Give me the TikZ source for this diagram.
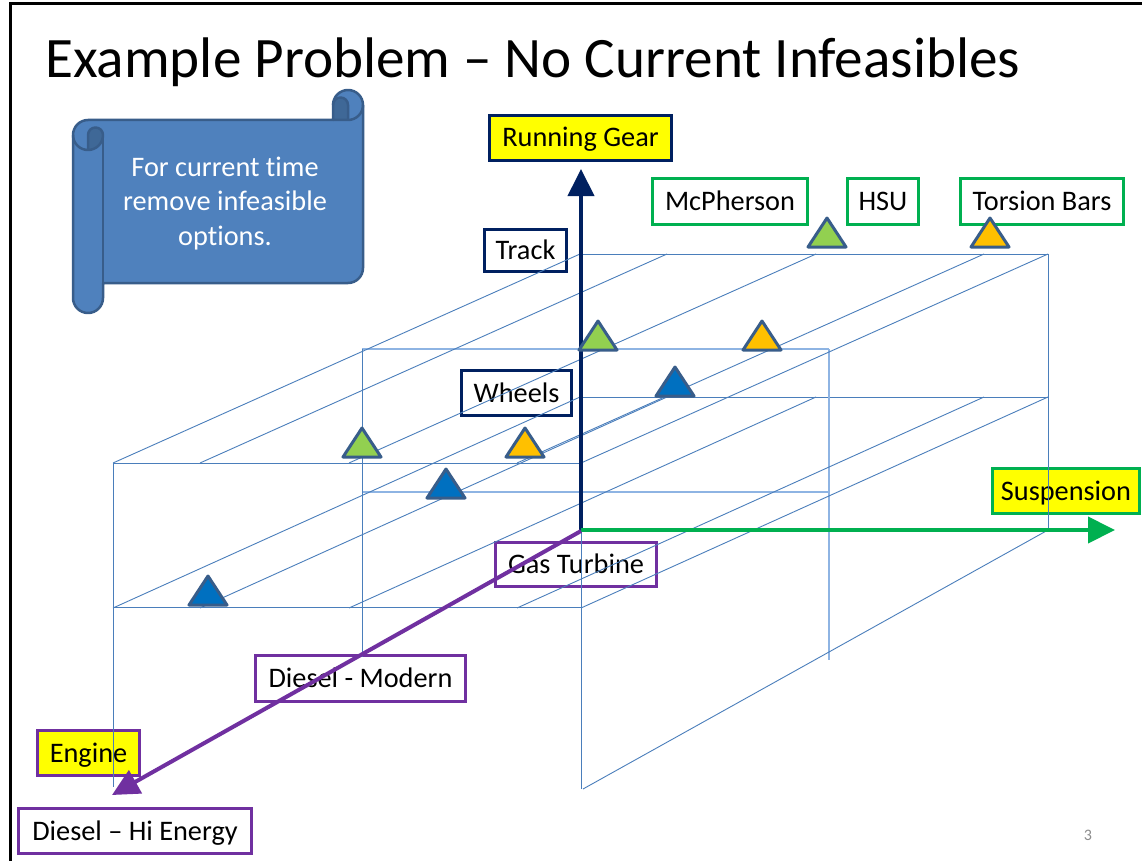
\documentclass[tikz,border=0pt]{standalone}
\usepackage{fontspec}
\setmainfont{Carlito}[Ligatures=NoCommon]
\usetikzlibrary{arrows.meta}

\definecolor{navy}{HTML}{002060}
\definecolor{grn}{HTML}{00B050}
\definecolor{purp}{HTML}{7030A0}
\definecolor{yel}{HTML}{FFFF00}
\definecolor{gridblue}{HTML}{4A7EBB}
\definecolor{midblue}{HTML}{8EB4E3}
\definecolor{scrollfill}{HTML}{4F81BD}
\definecolor{scrolledge}{HTML}{385D8A}
\definecolor{scrolldark}{HTML}{3F6897}
\definecolor{trigreen}{HTML}{92D050}
\definecolor{triorange}{HTML}{FFC000}
\definecolor{triblue}{HTML}{0070C0}
\definecolor{pagegray}{HTML}{8C8C8C}

\tikzset{
  lbl/.style={draw, line width=3pt, fill=white, text=black, inner sep=0pt,
    text height=18pt, text depth=0pt,
    font=\fontsize{28.3}{34}\selectfont},
  gridline/.style={gridblue, line width=0.9pt},
  midline/.style={midblue, line width=1.5pt},
  optri/.style={draw=scrolledge, line width=3pt, line join=round},
  axisline/.style={line width=4pt},
}

% option marker: base centre x, base y, fill colour
\newcommand{\optmark}[3]{\draw[optri, fill=#3] (#1-19,#2) -- (#1+19,#2) -- (#1,#2-29) -- cycle;}

\begin{document}
\begin{tikzpicture}[x=1pt, y=-1pt]
\useasboundingbox (0,0) rectangle (1142,861);
\fill[white] (0,0) rectangle (1142,861);

% slide frame
\draw[line width=3pt, black] (10,861) -- (10,4) -- (1142,4);

% title
\node[anchor=base west, inner sep=0pt, font=\fontsize{57.2}{68}\selectfont] (title) at (45,78)
  {Example Problem – No Current Infeasibles};

% scroll callout
\fill[scrollfill] (73,135) arc[start angle=180, end angle=270, radius=15]
  -- (333,120) -- (333,105) arc[start angle=180, end angle=360, radius=15]
  -- (363,268) arc[start angle=0, end angle=90, radius=15]
  -- (103,283) -- (103,298) arc[start angle=0, end angle=180, radius=15] -- cycle;
\fill[scrolldark] (333,120) -- (348,120) -- (348,105)
  arc[start angle=0, end angle=-180, radius=7.5] -- cycle;
\fill[scrolldark] (88,150) arc[start angle=90, end angle=0, radius=15]
  arc[start angle=0, end angle=-180, radius=7.5] -- cycle;
\draw[scrolledge, line width=2.5pt, line join=round]
  (73,135) arc[start angle=180, end angle=270, radius=15]
  -- (333,120) -- (333,105) arc[start angle=180, end angle=360, radius=15]
  -- (363,268) arc[start angle=0, end angle=90, radius=15]
  -- (103,283) -- (103,298) arc[start angle=0, end angle=180, radius=15] -- cycle;
\draw[scrolledge, line width=2.5pt, line join=round]
  (333,120) -- (348,120) arc[start angle=90, end angle=0, radius=15];
\draw[scrolledge, line width=2.5pt, line join=round]
  (348,120) -- (348,105) arc[start angle=0, end angle=-180, radius=7.5];
\draw[scrolledge, line width=2.5pt, line join=round]
  (88,150) -- (88,135) arc[start angle=180, end angle=360, radius=7.5]
  arc[start angle=0, end angle=180, radius=15];
\draw[scrolledge, line width=2.5pt] (103,135) -- (103,283);
\begin{scope}[every node/.style={anchor=base, inner sep=0pt, text=white,
    font=\fontsize{28.3}{34}\selectfont}]
  \node (noteA) at (225,177) {For current time};
  \node (noteB) at (225,211) {remove infeasible};
  \node (noteC) at (225,245) {options.};
\end{scope}

% axis and option labels
\node[lbl, draw=navy, fill=yel, minimum width=182pt, minimum height=45pt] (rg) at (580.5,138) {Running Gear};
\node[lbl, draw=navy, minimum width=82pt, minimum height=42pt] (track) at (525.5,250.5) {Track};
\node[lbl, draw=navy, minimum width=110pt, minimum height=45pt] (wheels) at (516.5,393) {Wheels};
\node[lbl, draw=grn, minimum width=155pt, minimum height=46pt] (mcph) at (730,201.5) {McPherson};
\node[lbl, draw=grn, minimum width=71pt, minimum height=46pt] (hsu) at (883,201.5) {HSU};
\node[lbl, draw=grn, minimum width=163pt, minimum height=46pt] (torsion) at (1042,201.5) {Torsion Bars};
\node[lbl, draw=grn, fill=yel, minimum width=147pt, minimum height=45pt] (susp) at (1066,491) {Suspension};
\node[lbl, draw=purp, minimum width=161pt, minimum height=44pt] (gas) at (576,564.5) {Gas Turbine};
\node[lbl, draw=purp, minimum width=210pt, minimum height=46pt] (dmod) at (360.5,678.5) {Diesel - Modern};
\node[lbl, draw=purp, fill=yel, minimum width=102pt, minimum height=45pt] (engine) at (88.5,753) {Engine};
\node[lbl, draw=purp, minimum width=233pt, minimum height=45pt] (dhi) at (135,831) {Diesel – Hi Energy};

% back plane (Gas Turbine)
\draw[gridline] (581,254) -- (1048,254);
\draw[gridline] (581,397) -- (1048,397);
\draw[gridline] (1048,254) -- (1048,530);
% middle plane (Diesel - Modern)
\draw[midline] (362,349) -- (829,349);
\draw[midline] (362,492) -- (829,492);
\draw[gridline] (362,349) -- (362,657);
\draw[midline] (829,349) -- (829,660);
% front plane (Diesel - Hi Energy)
\draw[gridline] (113,463) -- (581,463);
\draw[gridline] (113,607) -- (581,607);
\draw[gridline] (113,463) -- (113,787);
\draw[gridline] (581,463) -- (581,789);
% depth lines, track level and wheels level
\foreach \fx in {113,200,349,517,581} {
  \draw[gridline] (\fx,463) -- (\fx+467,254);
  \draw[gridline] (\fx,608) -- (\fx+467,397);
}
% floor edge
\draw[gridline] (1048,530) -- (583,789);

% axes
\coordinate (O) at (581,531);
\coordinate (rgtip) at (581,169);
\coordinate (sustip) at (1115,530);
\coordinate (engtip) at (112,795);
\draw[axisline, navy, -{Triangle[length=27pt,width=26pt]}] (O) -- (rgtip);
\draw[axisline, grn, -{Triangle[length=27pt,width=26pt]}] (581,530) -- (sustip);
\draw[axisline, purp, -{Triangle[length=27pt,width=26pt]}] (O) -- (engtip);

% feasible options
\optmark{827}{247}{trigreen}
\optmark{990}{247}{triorange}
\optmark{598}{350}{trigreen}
\optmark{762}{350}{triorange}
\optmark{675}{396}{triblue}
\optmark{362}{457}{trigreen}
\optmark{525}{457}{triorange}
\optmark{446}{498}{triblue}
\optmark{208}{605}{triblue}

% page number
\node[anchor=base, inner sep=0pt, text=pagegray, font=\fontsize{16}{19}\selectfont] (pagenum) at (1088,840) {3};
\end{tikzpicture}
\end{document}
